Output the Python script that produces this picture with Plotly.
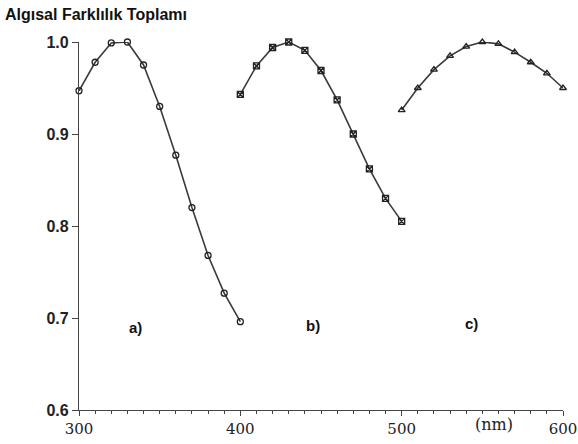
import plotly.graph_objects as go

wl_a = [300, 310, 320, 330, 340, 350, 360, 370, 380, 390, 400]
val_a = [0.947, 0.978, 0.999, 1.0, 0.975, 0.930, 0.877, 0.820, 0.768, 0.727, 0.696]

wl_b = [400, 410, 420, 430, 440, 450, 460, 470, 480, 490, 500]
val_b = [0.943, 0.974, 0.994, 1.0, 0.991, 0.969, 0.937, 0.900, 0.862, 0.830, 0.805]

wl_c = [500, 510, 520, 530, 540, 550, 560, 570, 580, 590, 600]
val_c = [0.926, 0.950, 0.970, 0.985, 0.995, 1.0, 0.998, 0.989, 0.978, 0.966, 0.950]

labels = ["a)", "b)", "c)"]
label_x = [335, 445, 543]
label_y = [0.690, 0.692, 0.694]

line_col = "#3a3a3a"
fig = go.Figure()
for x, y, sym in [(wl_a, val_a, "circle-open"), (wl_b, val_b, "square-x-open"),
                  (wl_c, val_c, "triangle-up-open")]:
    fig.add_trace(go.Scatter(
        x=x, y=y, mode="lines+markers", cliponaxis=False,
        line=dict(color=line_col, width=1.6),
        marker=dict(symbol=sym, size=6, color="#222", line=dict(width=1.3, color="#222")),
        showlegend=False))

for t, x, y in zip(labels, label_x, label_y):
    fig.add_annotation(x=x, y=y, text=t, showarrow=False,
                       font=dict(family="Liberation Sans", size=15, color="#111", weight="bold"))

fig.add_annotation(x=557, y=0, yref="paper", yanchor="top", yshift=-3, text="(nm)",
                   showarrow=False, font=dict(family="DejaVu Serif", size=16, color="#222"))

fig.update_layout(
    width=578, height=444,
    margin=dict(l=79, r=15, t=42, b=34),
    plot_bgcolor="white", paper_bgcolor="white",
    title=dict(text="Algısal Farklılık Toplamı", xref="container", x=5/578, xanchor="left",
               yref="container", y=1-14/444, yanchor="middle",
               font=dict(family="Liberation Sans", size=16, color="#111", weight="bold")),
    xaxis=dict(range=[300, 600], dtick=100, showgrid=False, zeroline=False, automargin=False,
               showline=True, linecolor="#444", linewidth=1.2,
               ticks="outside", ticklen=5, tickcolor="#444",
               minor=dict(ticks="outside", dtick=10, ticklen=3, tickcolor="#444", showgrid=False),
               tickfont=dict(family="DejaVu Serif", size=15, color="#222")),
    yaxis=dict(range=[0.6, 1.0], dtick=0.1, tickformat=".1f", showgrid=False, zeroline=False,
               automargin=False,
               showline=True, linecolor="#444", linewidth=1.2,
               ticks="outside", ticklen=6, tickcolor="#444",
               tickfont=dict(family="Liberation Sans", size=16, color="#222", weight="bold")),
)

fig.write_html("out.html", config={"displayModeBar": False},
               post_script="document.body.style.margin='0';")
